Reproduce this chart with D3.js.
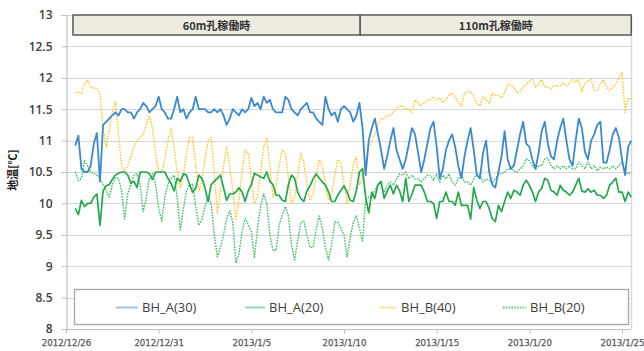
<!DOCTYPE html>
<html><head><meta charset="utf-8">
<script src="https://cdn.jsdelivr.net/npm/d3@7"></script>
<style>body{margin:0;background:#fff}svg{display:block}</style>
</head><body>
<svg id="c" width="644" height="351"></svg>
<script>
// ---- data ----
const seriesNames = ["BH_A(30)", "BH_A(20)", "BH_B(40)", "BH_B(20)"];
const startTime = new Date(2012, 11, 26, 12); // first sample
const stepHours = 4;
const bhA30 = [
 10.92,11.08,10.55,
 10.5,10.5,10.6,10.95,11.12,10.35,
 11.25,11.3,11.35,11.4,11.45,11.4,
 11.5,11.5,11.45,11.45,11.35,11.45,
 11.5,11.6,11.55,11.45,11.5,11.55,
 11.7,11.5,11.45,11.35,11.35,11.5,
 11.7,11.45,11.5,11.35,11.45,11.5,
 11.7,11.5,11.5,11.5,11.45,11.45,
 11.5,11.45,11.5,11.4,11.25,11.35,
 11.5,11.45,11.4,11.5,11.45,11.5,
 11.68,11.55,11.6,11.5,11.7,11.6,
 11.65,11.5,11.45,11.45,11.45,11.7,
 11.65,11.5,11.45,11.4,11.5,11.55,
 11.6,11.45,11.45,11.35,11.3,11.25,
 11.7,11.5,11.4,11.45,11.3,11.5,
 11.55,11.5,11.45,11.3,11.4,11.6,
 11.2,10.45,11.0,11.2,11.35,11.1,
 10.85,10.55,10.75,11.0,11.2,10.85,
 10.7,10.55,10.7,10.95,11.2,11.1,
 10.8,10.5,10.7,10.95,11.2,11.3,
 10.9,10.4,10.55,10.85,11.0,11.1,
 10.9,10.6,10.4,10.75,11.0,11.2,
 10.85,10.45,10.4,10.8,11.0,10.5,
 10.3,10.25,10.5,10.75,11.15,10.7,
 10.55,10.6,10.85,11.1,11.3,10.95,
 10.9,10.7,10.55,10.8,11.15,11.3,
 10.95,10.75,10.7,11.0,11.2,11.35,
 11.0,10.7,10.6,11.0,11.35,11.2,
 10.82,10.7,11.0,11.1,11.25,11.3,
 10.65,10.65,10.85,11.1,11.2,11.05,
 10.7,10.45,10.9,11.0
];
const bhA20 = [
 9.92,9.82,10.05,
 9.95,10.0,10.0,10.1,10.15,9.65,
 10.2,10.28,10.3,10.38,10.45,10.48,
 10.5,10.5,10.45,10.32,10.35,10.25,
 10.5,10.5,10.5,10.47,10.38,10.5,
 10.5,10.5,10.5,10.4,10.32,10.2,
 10.4,10.35,10.47,10.45,10.3,10.18,
 10.24,10.45,10.4,10.25,10.03,10.3,
 10.35,10.4,10.45,10.25,10.05,10.15,
 10.15,10.18,10.25,10.18,10.03,10.2,
 10.3,10.48,10.45,10.42,10.4,10.5,
 10.35,10.3,10.13,10.13,10.05,10.03,
 10.3,10.45,10.4,10.18,10.08,10.03,
 10.2,10.28,10.39,10.47,10.4,10.34,
 10.29,10.18,10.03,10.03,10.13,10.21,
 10.28,10.18,10.05,10.03,10.2,10.5,
 10.55,10.1,9.85,10.18,10.08,10.3,
 10.35,10.08,10.2,10.29,10.15,10.29,
 10.2,10.03,10.4,10.03,10.15,10.29,
 10.29,10.29,10.18,10.03,10.03,10.0,
 9.76,10.03,10.03,10.18,10.03,10.03,
 9.97,10.18,9.97,9.97,9.97,9.75,
 10.25,10.05,9.92,10.03,10.03,9.92,
 9.76,9.71,9.97,9.87,10.03,10.18,
 10.08,10.21,10.18,10.13,10.29,10.37,
 10.29,10.18,10.03,10.18,10.24,10.4,
 10.37,10.21,10.18,10.13,10.29,10.21,
 10.18,10.13,10.18,10.29,10.4,10.2,
 10.18,10.23,10.18,10.21,10.13,10.13,
 10.08,10.13,10.29,10.34,10.4,10.18,
 10.18,10.03,10.18,10.1
];
const bhB40 = [
 11.76,11.77,11.75,
 11.9,11.97,11.85,11.83,11.84,11.75,
 11.2,10.9,11.15,11.45,11.62,11.1,
 10.6,10.5,10.6,10.75,10.9,11.0,
 11.05,11.1,11.25,11.4,11.2,10.8,
 10.5,10.5,10.7,11.0,11.2,10.9,
 10.5,10.25,10.45,10.8,11.05,11.05,
 10.6,10.2,10.35,10.7,11.0,11.05,
 10.5,9.85,10.2,10.6,10.9,10.6,
 10.2,9.75,10.05,10.5,10.85,10.8,
 10.4,10.0,10.1,10.5,10.9,11.05,
 10.6,10.1,10.25,10.6,10.85,10.8,
 10.4,10.0,10.1,10.45,10.8,10.65,
 10.3,10.05,10.15,10.45,10.7,10.6,
 10.3,10.05,10.15,10.45,10.7,10.65,
 10.3,10.0,10.3,10.6,10.75,10.3,
 10.4,10.7,10.9,11.0,11.1,11.25,
 11.35,11.35,11.4,11.4,11.45,11.5,
 11.55,11.55,11.5,11.5,11.45,11.65,
 11.6,11.55,11.6,11.65,11.65,11.7,
 11.65,11.68,11.6,11.65,11.72,11.76,
 11.7,11.6,11.55,11.75,11.78,11.78,
 11.7,11.6,11.55,11.7,11.65,11.6,
 11.75,11.72,11.72,11.68,11.76,11.9,
 11.88,11.85,11.76,11.78,11.85,11.9,
 11.95,11.97,11.85,11.9,11.97,11.85,
 11.85,11.82,11.88,11.87,11.88,11.92,
 11.87,11.92,11.97,11.93,11.97,11.78,
 11.92,11.95,11.97,11.8,11.8,11.9,
 11.97,11.85,11.8,11.85,11.9,12.0,
 12.08,11.45,11.68,11.65
];
const bhB20 = [
 10.5,10.36,10.4,
 10.68,10.6,10.5,10.48,10.45,10.4,
 10.3,10.2,10.1,10.3,10.4,10.4,
 10.2,9.75,10.15,10.3,10.45,10.47,
 10.3,9.87,10.1,10.4,10.47,10.3,
 9.92,9.72,10.1,10.3,10.4,10.45,
 10.08,9.58,9.9,10.2,10.3,10.3,
 9.95,9.65,9.75,9.95,10.1,10.0,
 9.5,9.15,9.3,9.5,9.75,9.88,
 9.7,9.05,9.2,9.55,9.76,9.66,
 9.55,9.13,9.6,9.95,10.15,10.0,
 9.5,9.25,9.25,9.65,9.82,9.95,
 9.8,9.35,9.1,9.4,9.7,9.72,
 9.5,9.3,9.3,9.6,9.8,9.6,
 9.3,9.1,9.35,9.7,9.7,9.6,
 9.5,9.15,9.45,9.7,9.8,9.6,
 9.4,10.05,10.1,10.08,10.2,10.3,
 10.29,10.18,10.29,10.34,10.29,10.39,
 10.47,10.45,10.5,10.39,10.45,10.39,
 10.39,10.34,10.39,10.45,10.45,10.37,
 10.47,10.34,10.45,10.39,10.47,10.34,
 10.29,10.39,10.47,10.34,10.34,10.29,
 10.39,10.47,10.45,10.34,10.39,10.37,
 10.32,10.39,10.47,10.47,10.5,10.55,
 10.55,10.52,10.5,10.55,10.6,10.71,
 10.68,10.6,10.55,10.6,10.6,10.71,
 10.72,10.6,10.55,10.6,10.55,10.6,
 10.55,10.6,10.55,10.55,10.66,10.6,
 10.55,10.66,10.55,10.6,10.52,10.58,
 10.55,10.58,10.55,10.6,10.55,10.6,
 10.66,10.5,10.47,10.5
];
const yTicks = [8, 8.5, 9, 9.5, 10, 10.5, 11, 11.5, 12, 12.5, 13];
const xTickLabels = ["2012/12/26", "2012/12/31", "2013/1/5", "2013/1/10", "2013/1/15", "2013/1/20", "2013/1/25"];
const periodLabels = ["60m孔稼働時", "110m孔稼働時"];
const periodBounds = [new Date(2012, 11, 26, 9), new Date(2013, 0, 10, 21), new Date(2013, 0, 25, 12)];
const yTitle = "地温[℃]";

// ---- chart ----
const svg = d3.select("#c");
const parseTick = d3.timeParse("%Y/%m/%d");
const xTickDates = xTickLabels.map(parseTick);
const x = d3.scaleTime().domain([xTickDates[0], xTickDates[xTickDates.length - 1]]).range([66, 622]);
const y = d3.scaleLinear().domain([8, 13]).range([329, 15]);
const plotRight = 631;
const times = bhA30.map((_, i) => new Date(startTime.getTime() + i * stepHours * 3600e3));

// gridlines
svg.append("g").selectAll("line").data(yTicks.slice(1)).join("line")
  .attr("x1", 66).attr("x2", plotRight)
  .attr("y1", d => Math.round(y(d)) + 0.5).attr("y2", d => Math.round(y(d)) + 0.5)
  .attr("stroke", "#d6d6d6").attr("stroke-width", 1.2);
// right border
svg.append("line").attr("x1", plotRight + 0.5).attr("x2", plotRight + 0.5).attr("y1", 15).attr("y2", 329)
  .attr("stroke", "#d9d9d9").attr("stroke-width", 1.5);

// y axis
const yAxis = svg.append("g").attr("transform", "translate(66.5,0)")
  .call(d3.axisLeft(y).tickValues(yTicks).tickFormat(d3.format("")).tickSize(5).tickPadding(9));
yAxis.select(".domain").attr("stroke", "#bfbfbf").attr("stroke-width", 1.2);
yAxis.selectAll(".tick line").attr("stroke", "#bfbfbf");
yAxis.selectAll(".tick text").attr("fill", "#404040").attr("font-size", 12)
  .attr("font-family", "'Open Sans', sans-serif").attr("font-weight", 600);

// x axis
const xAxis = svg.append("g").attr("transform", "translate(0,329.5)")
  .call(d3.axisBottom(x).tickValues(xTickDates).tickFormat((d, i) => xTickLabels[i]).tickSize(4).tickPadding(6).tickSizeOuter(0));
xAxis.select(".domain").attr("stroke", "#bfbfbf").attr("stroke-width", 1.2).attr("d", `M66,0H${plotRight}`);
xAxis.selectAll(".tick line").attr("stroke", "#bfbfbf");
xAxis.selectAll(".tick text").attr("fill", "#595959").attr("font-size", 8.6)
  .attr("font-family", "'DejaVu Sans', sans-serif").attr("font-weight", 400)
  .attr("stroke", "#595959").attr("stroke-width", 0.25);

// y title
svg.append("text").attr("transform", "translate(17,170) rotate(-90)")
  .attr("text-anchor", "middle").attr("font-size", 11).attr("font-weight", 700)
  .attr("font-family", "'Noto Sans CJK JP', sans-serif").attr("fill", "#222").text(yTitle);

// series
const styles = [
  { data: bhB40, color: "#ffc62e", width: 1.4, dash: "1.6,1.2" },
  { data: bhB20, color: "#3cc064", width: 1.4, dash: "1.6,1.2" },
  { data: bhA20, color: "#23a84f", width: 1.7, dash: null },
  { data: bhA30, color: "#3a8ad2", width: 1.8, dash: null }
];
const line = d3.line().x((d, i) => x(times[i])).y(d => y(d));
svg.append("g").selectAll("path").data(styles).join("path")
  .attr("d", s => line(s.data)).attr("fill", "none")
  .attr("stroke", s => s.color).attr("stroke-width", s => s.width)
  .attr("stroke-dasharray", s => s.dash).attr("stroke-linejoin", "round");

// header boxes
const hdr = svg.append("g");
periodLabels.forEach((lab, i) => {
  const x0 = x(periodBounds[i]), x1 = x(periodBounds[i + 1]);
  hdr.append("rect").attr("x", x0).attr("y", 15).attr("width", x1 - x0).attr("height", 20)
    .attr("fill", "#eeece1").attr("stroke", "#595959").attr("stroke-width", 1.5);
  hdr.append("text").attr("x", (x0 + x1) / 2).attr("y", 29.5).attr("text-anchor", "middle")
    .attr("font-size", 11).attr("font-weight", 700).attr("fill", "#333")
    .attr("font-family", "'Noto Sans CJK JP', sans-serif").text(lab);
});

// legend
const lg = svg.append("g");
lg.append("rect").attr("x", 74.5).attr("y", 289.5).attr("width", 554).attr("height", 35)
  .attr("fill", "#fff").attr("stroke", "#a6a6a6").attr("stroke-width", 1.3);
const legendStyles = [
  { color: "#9cc3e8", dash: null, x0: 116, x1: 138 },
  { color: "#8fdcae", dash: null, x0: 245, x1: 265 },
  { color: "#ffd45c", dash: "1.6,1.2", x0: 380, x1: 397 },
  { color: "#5fd07f", dash: "1.6,1.2", x0: 503, x1: 526 }
];
seriesNames.forEach((nm, i) => {
  const s = legendStyles[i];
  lg.append("line").attr("x1", s.x0).attr("x2", s.x1).attr("y1", 307.5).attr("y2", 307.5)
    .attr("stroke", s.color).attr("stroke-width", 2).attr("stroke-dasharray", s.dash);
  lg.append("text").attr("x", s.x1 + 4).attr("y", 312).attr("font-size", 13)
    .attr("font-family", "'Open Sans', sans-serif").attr("fill", "#404040").text(nm);
});
</script>
</body></html>
